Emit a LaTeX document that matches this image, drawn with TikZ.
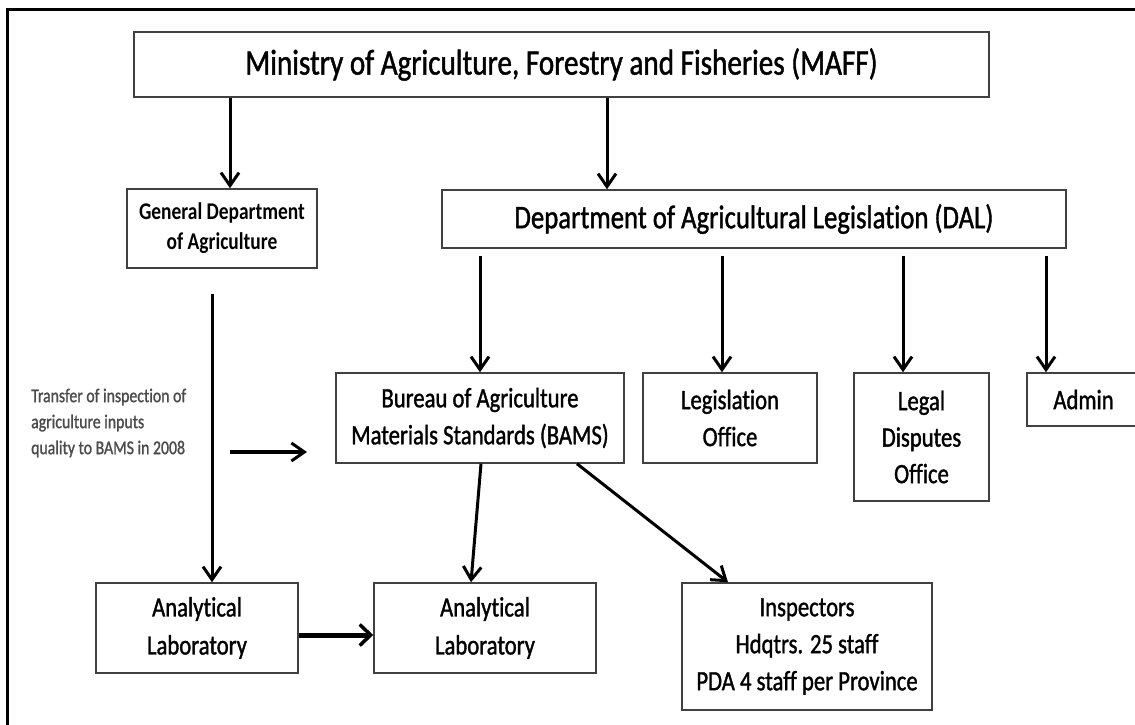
\documentclass[tikz,border=0pt]{standalone}
\usepackage{fontspec}
\setmainfont{Carlito}[FakeStretch=0.81, RawFeature=-liga, UprightFeatures={FakeBold=1.2}]
\usetikzlibrary{arrows.meta}
\begin{document}
\begin{tikzpicture}[x=1pt,y=-1pt,
  box/.style={draw=black!75, line width=1.5pt, rectangle, inner sep=0pt, align=center, fill=white},
  boxtext/.style={font=\fontsize{28}{37}\selectfont},
  arr/.style={line width=3pt, -{Straight Barb[length=13pt,width=18pt,line width=3pt]}},
  thickarr/.style={line width=5pt, -{Straight Barb[length=11pt,width=21pt,line width=3.5pt]}}
]
\useasboundingbox (0,0) rectangle (1135,725);
\fill[white] (0,0) rectangle (1135,725);
% frame
\draw[line width=3pt] (7,725) -- (7,10) -- (1135,10);

% nodes
\node[box, minimum width=855pt, minimum height=65pt, font=\fontsize{36}{40}\selectfont] (maff) at (561.5,64.5) {Ministry of Agriculture, Forestry and Fisheries (MAFF)};
\node[box, minimum width=190pt, minimum height=79pt, font=\fontsize{24}{30}\selectfont\bfseries] (gda) at (222,228.5) {General Department\\of Agriculture};
\node[box, minimum width=624pt, minimum height=58pt, font=\fontsize{33}{38}\selectfont] (dal) at (754,219) {Department of Agricultural Legislation (DAL)};
\node[box, boxtext, minimum width=288pt, minimum height=90pt] (bams) at (480,418) {Bureau of Agriculture\\Materials Standards (BAMS)};
\node[box, boxtext, minimum width=174pt, minimum height=90pt] (leg) at (730,418) {Legislation\\Office};
\node[box, boxtext, minimum width=135pt, minimum height=128pt, font=\fontsize{28}{36.5}\selectfont] (disp) at (921.5,437) {Legal\\Disputes\\Office};
\node[box, boxtext, minimum width=113pt, minimum height=53pt] (admin) at (1083.5,399.5) {Admin};
\node[box, boxtext, minimum width=202pt, minimum height=90pt, font=\fontsize{28}{38}\selectfont] (lab1) at (197,628) {Analytical\\Laboratory};
\node[box, boxtext, minimum width=222pt, minimum height=90pt, font=\fontsize{28}{38}\selectfont] (lab2) at (485,628) {Analytical\\Laboratory};
\node[box, boxtext, minimum width=250pt, minimum height=127pt, font=\fontsize{28}{37}\selectfont] (insp) at (807,646.5) {Inspectors\\Hdqtrs. 25 staff\\PDA 4 staff per Province};
\node[anchor=west, align=left, inner sep=0pt, text=black!70, font=\fontsize{19.5}{26}\selectfont] (note) at (31,423) {Transfer of inspection of\\agriculture inputs\\quality to BAMS in 2008};

% x positions of connectors
\coordinate (xa) at (230,0);
\coordinate (xb) at (607,0);
\coordinate (xc) at (480,0);
\coordinate (xd) at (722,0);
\coordinate (xe) at (903,0);
\coordinate (xf) at (1046,0);
\coordinate (xg) at (212,0);
\coordinate (xh1) at (481,0);
\coordinate (xh2) at (471,0);
\coordinate (xi1) at (577,0);
\coordinate (xi2) at (728,0);
\coordinate (yl) at (0,635);
\coordinate (t1) at (230,452);
\coordinate (t2) at (307,452);

% connectors
\draw[arr] (maff.south -| xa) -- (gda.north -| xa);
\draw[arr] (maff.south -| xb) -- (dal.north -| xb);
\draw[arr, shorten <=7pt] (dal.south -| xc) -- (bams.north -| xc);
\draw[arr, shorten <=7pt] (dal.south -| xd) -- (leg.north -| xd);
\draw[arr, shorten <=7pt] (dal.south -| xe) -- (disp.north -| xe);
\draw[arr, shorten <=7pt] (dal.south -| xf) -- (admin.north -| xf);
\draw[arr, shorten <=25pt] (gda.south -| xg) -- (lab1.north -| xg);
\draw[arr, line width=4pt] (t1) -- (t2);
\draw[arr] (bams.south -| xh1) -- (lab2.north -| xh2);
\draw[arr] (bams.south -| xi1) -- (insp.north -| xi2);
\draw[thickarr] (lab1.east |- yl) -- (lab2.west |- yl);
\end{tikzpicture}
\end{document}
